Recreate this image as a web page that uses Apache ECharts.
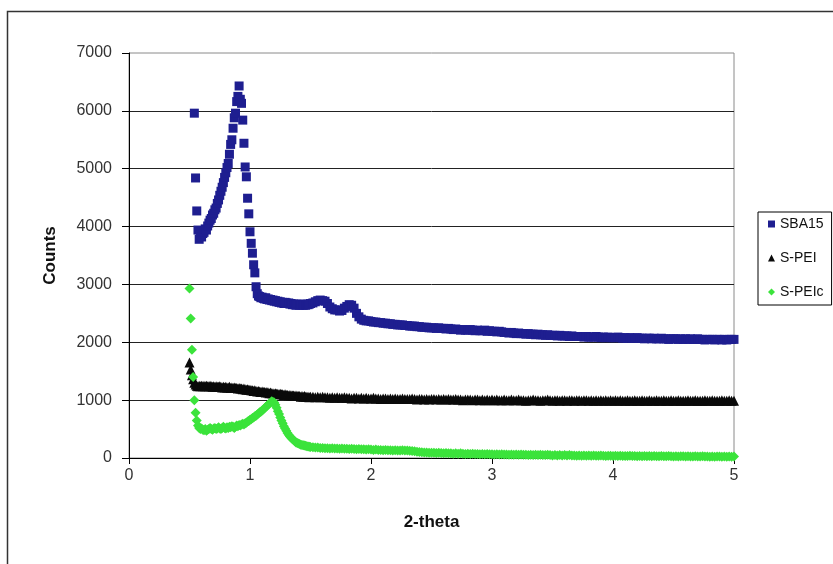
<!DOCTYPE html>
<html>
<head>
<meta charset="utf-8">
<script src="https://cdn.jsdelivr.net/npm/echarts@6/dist/echarts.min.js"></script>
<style>
  html, body { margin: 0; padding: 0; background: #fff; }
  #chart { width: 833px; height: 564px; }
</style>
</head>
<body>
<div id="chart"></div>
<script>
// 2-theta positions of the measured points (three scan segments)
const thetaFine = [
  0.50, 0.51, 0.52, 0.53, 0.54, 0.55, 0.56, 0.57, 0.58, 0.59,
  0.60, 0.61, 0.62, 0.63, 0.64, 0.65, 0.66, 0.67, 0.68, 0.69,
  0.70, 0.71, 0.72, 0.73, 0.74, 0.75, 0.76, 0.77, 0.78, 0.79,
  0.80, 0.81, 0.82, 0.83, 0.84, 0.85, 0.86, 0.87, 0.88, 0.89,
  0.90, 0.91, 0.92, 0.93, 0.94, 0.95, 0.96, 0.97, 0.98, 0.99,
  1.00, 1.01, 1.02, 1.03, 1.04, 1.05, 1.06, 1.07, 1.08, 1.09,
  1.10, 1.11, 1.12, 1.13, 1.14, 1.15, 1.16, 1.17, 1.18, 1.19,
  1.20, 1.21, 1.22, 1.23, 1.24, 1.25, 1.26, 1.27, 1.28, 1.29,
  1.30, 1.31, 1.32, 1.33, 1.34, 1.35, 1.36, 1.37, 1.38, 1.39,
  1.40, 1.41, 1.42, 1.43, 1.44, 1.45, 1.46, 1.47, 1.48, 1.49,
  1.50
];
const thetaMid = [
  1.52, 1.54, 1.56, 1.58, 1.60, 1.62, 1.64, 1.66, 1.68, 1.70,
  1.72, 1.74, 1.76, 1.78, 1.80, 1.82, 1.84, 1.86, 1.88, 1.90,
  1.92, 1.94, 1.96, 1.98, 2.00, 2.02, 2.04, 2.06, 2.08, 2.10,
  2.12, 2.14, 2.16, 2.18, 2.20, 2.22, 2.24, 2.26, 2.28, 2.30,
  2.32, 2.34, 2.36, 2.38, 2.40, 2.42, 2.44, 2.46, 2.48, 2.50
];
const thetaTail = [
  2.52, 2.54, 2.56, 2.58, 2.60, 2.62, 2.64, 2.66, 2.68, 2.70,
  2.72, 2.74, 2.76, 2.78, 2.80, 2.82, 2.84, 2.86, 2.88, 2.90,
  2.92, 2.94, 2.96, 2.98, 3.00, 3.02, 3.04, 3.06, 3.08, 3.10,
  3.12, 3.14, 3.16, 3.18, 3.20, 3.22, 3.24, 3.26, 3.28, 3.30,
  3.32, 3.34, 3.36, 3.38, 3.40, 3.42, 3.44, 3.46, 3.48, 3.50,
  3.52, 3.54, 3.56, 3.58, 3.60, 3.62, 3.64, 3.66, 3.68, 3.70,
  3.72, 3.74, 3.76, 3.78, 3.80, 3.82, 3.84, 3.86, 3.88, 3.90,
  3.92, 3.94, 3.96, 3.98, 4.00, 4.02, 4.04, 4.06, 4.08, 4.10,
  4.12, 4.14, 4.16, 4.18, 4.20, 4.22, 4.24, 4.26, 4.28, 4.30,
  4.32, 4.34, 4.36, 4.38, 4.40, 4.42, 4.44, 4.46, 4.48, 4.50,
  4.52, 4.54, 4.56, 4.58, 4.60, 4.62, 4.64, 4.66, 4.68, 4.70,
  4.72, 4.74, 4.76, 4.78, 4.80, 4.82, 4.84, 4.86, 4.88, 4.90,
  4.92, 4.94, 4.96, 4.98, 5.00
];
const twoTheta = thetaFine.concat(thetaMid, thetaTail);

// Counts, SBA15
const sba15 = [
  null, null, null, null, 5960, 4840, 4270, 3940, 3780, 3850,
  3820, 3880, 3900, 3960, 3940, 4010, 4060, 4110, 4140, 4200,
  4230, 4290, 4320, 4400, 4460, 4540, 4610, 4680, 4760, 4850,
  4930, 5020, 5090, 5250, 5420, 5500, 5700, 5880, 5960, 6160,
  6250, 6430, 6200, 6130, 5840, 5440, 5030, 4860, 4490, 4220,
  3910, 3710, 3540, 3340, 3200, 2960, 2840, 2800, 2790, 2770,
  2780, 2760, 2750, 2770, 2740, 2750, 2730, 2740, 2720, 2730,
  2710, 2720, 2700, 2710, 2690, 2700, 2680, 2690, 2670, 2690,
  2680, 2670, 2680, 2660, 2670, 2650, 2660, 2650, 2640, 2660,
  2650, 2640, 2660, 2650, 2640, 2650, 2640, 2660, 2650, 2660,
  2670,
  2680, 2700, 2720, 2730, 2720, 2710, 2670, 2610, 2580, 2560,
  2560, 2540, 2550, 2590, 2620, 2650, 2640, 2590, 2500, 2440,
  2400, 2380, 2370, 2370, 2360, 2350, 2350, 2340, 2340, 2330,
  2330, 2320, 2320, 2310, 2310, 2300, 2300, 2300, 2290, 2290,
  2280, 2280, 2280, 2270, 2270, 2260, 2260, 2260, 2250, 2250,
  2250, 2240, 2250, 2240, 2240, 2230, 2240, 2230, 2220, 2230,
  2220, 2210, 2220, 2210, 2210, 2220, 2210, 2200, 2210, 2200,
  2200, 2210, 2190, 2200, 2190, 2190, 2180, 2190, 2180, 2170,
  2170, 2160, 2170, 2160, 2150, 2160, 2150, 2150, 2140, 2150,
  2140, 2140, 2130, 2140, 2130, 2130, 2120, 2130, 2120, 2120,
  2120, 2110, 2120, 2110, 2110, 2110, 2100, 2110, 2100, 2100,
  2100, 2100, 2090, 2100, 2090, 2090, 2090, 2100, 2090, 2080,
  2090, 2080, 2090, 2080, 2080, 2080, 2090, 2080, 2070, 2080,
  2070, 2080, 2070, 2070, 2080, 2070, 2070, 2060, 2070, 2070,
  2060, 2070, 2060, 2060, 2070, 2060, 2060, 2050, 2060, 2060,
  2060, 2050, 2060, 2050, 2060, 2050, 2060, 2050, 2050, 2060,
  2050, 2050, 2040, 2050, 2050, 2050, 2040, 2050, 2050, 2040,
  2050, 2040, 2050, 2050, 2050
];

// Counts, S-PEI
const sPei = [
  1650, 1530, 1430, 1360, 1300, 1270, 1250, 1240, 1250, 1240,
  1250, 1240, 1250, 1240, 1250, 1240, 1240, 1250, 1240, 1230,
  1240, 1230, 1240, 1230, 1230, 1240, 1230, 1220, 1230, 1220,
  1230, 1220, 1220, 1230, 1210, 1220, 1210, 1220, 1210, 1210,
  1200, 1210, 1200, 1200, 1190, 1200, 1190, 1180, 1190, 1180,
  1180, 1170, 1170, 1160, 1170, 1160, 1150, 1160, 1150, 1140,
  1150, 1140, 1140, 1130, 1140, 1130, 1120, 1130, 1120, 1120,
  1110, 1120, 1110, 1110, 1100, 1110, 1100, 1100, 1090, 1100,
  1090, 1090, 1080, 1090, 1080, 1080, 1080, 1070, 1080, 1070,
  1070, 1070, 1060, 1070, 1060, 1070, 1060, 1060, 1060, 1050,
  1060,
  1060, 1050, 1060, 1050, 1060, 1050, 1050, 1040, 1050, 1040,
  1050, 1040, 1040, 1050, 1040, 1040, 1030, 1040, 1040, 1030,
  1040, 1030, 1040, 1030, 1030, 1040, 1030, 1030, 1020, 1030,
  1030, 1020, 1030, 1020, 1030, 1020, 1020, 1030, 1020, 1020,
  1020, 1030, 1020, 1010, 1020, 1020, 1010, 1020, 1010, 1020,
  1020, 1010, 1020, 1010, 1020, 1010, 1020, 1010, 1010, 1020,
  1010, 1010, 1000, 1010, 1010, 1010, 1000, 1010, 1010, 1000,
  1010, 1000, 1010, 1000, 1010, 1000, 1010, 1000, 1000, 1010,
  1000, 1000, 1010, 1000, 1000, 1010, 1000, 1000, 990, 1000,
  1000, 1010, 1000, 1000, 990, 1000, 1000, 1010, 1000, 990,
  1000, 1000, 990, 1000, 1000, 990, 1000, 1000, 990, 1000,
  1000, 990, 1000, 1000, 990, 1000, 990, 1000, 990, 1000,
  990, 1000, 990, 1000, 990, 1000, 990, 1000, 990, 990,
  1000, 990, 990, 1000, 990, 990, 1000, 990, 990, 1000,
  990, 990, 1000, 990, 990, 1000, 990, 990, 1000, 990,
  990, 1000, 990, 990, 990, 1000, 990, 990, 1000, 990,
  990, 990, 1000, 990, 990, 1000, 990, 990, 990, 1000,
  990, 990, 1000, 990, 990
];

// Counts, S-PEIc
const sPeic = [
  2930, 2410, 1870, 1400, 1000, 780, 650, 560, 520, 500,
  510, 490, 480, 500, 470, 490, 500, 520, 500, 490,
  510, 520, 500, 510, 530, 510, 500, 520, 540, 520,
  510, 530, 520, 540, 530, 550, 540, 520, 540, 560,
  550, 570, 560, 580, 590, 580, 600, 610, 630, 640,
  660, 670, 690, 700, 720, 730, 750, 770, 790, 800,
  820, 840, 860, 880, 900, 920, 940, 960, 980, 970,
  960, 920, 870, 810, 760, 700, 650, 600, 550, 510,
  470, 430, 400, 370, 350, 330, 310, 290, 270, 260,
  250, 240, 230, 225, 220, 215, 210, 205, 200, 195,
  190,
  185, 180, 180, 175, 175, 170, 170, 165, 170, 165,
  165, 160, 165, 160, 160, 155, 160, 155, 150, 155,
  150, 150, 145, 150, 145, 140, 145, 140, 140, 135,
  140, 135, 135, 130, 135, 130, 130, 135, 130, 130,
  125, 120, 115, 110, 105, 100, 95, 95, 90, 90,
  90, 85, 90, 85, 80, 85, 80, 80, 75, 80,
  75, 80, 75, 70, 75, 70, 75, 70, 70, 65,
  70, 65, 70, 65, 65, 60, 65, 60, 65, 60,
  60, 55, 60, 55, 60, 55, 60, 55, 55, 50,
  55, 50, 55, 50, 55, 50, 50, 55, 50, 45,
  50, 45, 50, 45, 50, 45, 50, 45, 45, 40,
  45, 40, 45, 40, 45, 40, 45, 40, 40, 45,
  40, 35, 40, 40, 35, 40, 35, 40, 35, 35,
  35, 40, 35, 35, 30, 35, 30, 35, 30, 35,
  30, 35, 30, 30, 35, 30, 30, 35, 30, 25,
  30, 25, 30, 30, 25, 30, 25, 25, 30, 25,
  25, 30, 25, 25, 20, 25, 20, 25, 25, 20,
  25, 20, 25, 20, 25
];

const seriesNames = ['SBA15', 'S-PEI', 'S-PEIc'];
const xTicks = [0, 1, 2, 3, 4, 5];
const yTicks = [0, 1000, 2000, 3000, 4000, 5000, 6000, 7000];

function pairs(values) {
  const out = [];
  values.forEach((v, i) => { if (v !== null) out.push([twoTheta[i], v]); });
  return out;
}

const FONT = "'Liberation Sans', Arial, sans-serif";
const chart = echarts.init(document.getElementById('chart'), null, { renderer: 'canvas' });

chart.setOption({
  backgroundColor: '#ffffff',
  animation: false,
  graphic: [{
    type: 'rect',
    shape: { x: 7.5, y: 11.5, width: 900, height: 700 },
    style: { fill: 'none', stroke: '#333', lineWidth: 1.5 },
    silent: true,
    z: 0
  }],
  grid: {
    left: 129, right: 99, top: 53, bottom: 106,
    show: true, borderColor: '#8a8a8a', borderWidth: 1, backgroundColor: 'transparent'
  },
  legend: {
    orient: 'vertical',
    left: 758, top: 212,
    padding: [5, 8, 6, 10],
    itemGap: 20,
    itemWidth: 7, itemHeight: 7,
    itemTextGap: 3,
    borderColor: '#000', borderWidth: 1, borderRadius: 0,
    textStyle: { fontFamily: FONT, fontSize: 14, color: '#111' },
    data: seriesNames
  },
  xAxis: {
    type: 'value',
    min: xTicks[0], max: xTicks[xTicks.length - 1], interval: 1,
    name: '2-theta', nameLocation: 'middle', nameGap: 56,
    nameTextStyle: { fontFamily: FONT, fontSize: 17, fontWeight: 'bold', color: '#111' },
    axisLine: { show: true, onZero: false, lineStyle: { color: '#000', width: 1 } },
    axisTick: { show: true, length: 6, lineStyle: { color: '#000' } },
    axisLabel: { fontFamily: FONT, fontSize: 16, color: '#333', margin: 10 },
    splitLine: { show: false }
  },
  yAxis: {
    type: 'value',
    min: yTicks[0], max: yTicks[yTicks.length - 1], interval: 1000,
    name: 'Counts', nameLocation: 'middle', nameGap: 70,
    nameTextStyle: { fontFamily: FONT, fontSize: 17, fontWeight: 'bold', color: '#111' },
    axisLine: { show: true, lineStyle: { color: '#000', width: 1 } },
    axisTick: { show: true, length: 7, lineStyle: { color: '#000' } },
    axisLabel: {
      fontFamily: FONT, fontSize: 16, color: '#333', margin: 17,
      formatter: (v) => String(v)
    },
    splitLine: { show: true, showMaxLine: false, lineStyle: { color: '#222', width: 1 } }
  },
  series: [
    {
      name: seriesNames[0], type: 'scatter', data: pairs(sba15),
      symbol: 'rect', symbolSize: 9,
      itemStyle: { color: '#1e1e90', opacity: 1 }
    },
    {
      name: seriesNames[1], type: 'scatter', data: pairs(sPei),
      symbol: 'triangle', symbolSize: 10,
      itemStyle: { color: '#0a0a0a', opacity: 1 }
    },
    {
      name: seriesNames[2], type: 'scatter', data: pairs(sPeic),
      symbol: 'diamond', symbolSize: 10,
      itemStyle: { color: '#3be33b', opacity: 1 }
    }
  ]
});
</script>
</body>
</html>
